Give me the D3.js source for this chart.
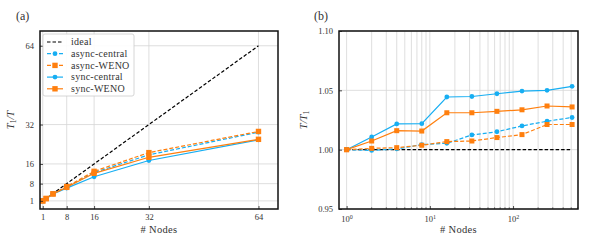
<!DOCTYPE html>
<html>
<head>
<meta charset="utf-8">
<script src="https://cdn.jsdelivr.net/npm/d3@7"></script>
<style>
  body { margin: 0; background: #fff; }
  svg { font-family: "Liberation Serif", "Times New Roman", serif; display: block; }
</style>
</head>
<body>
<svg id="chart"></svg>
<script>
const width = 589;
const height = 246;
const serif = "Liberation Serif, Times New Roman, serif";

// --- data: strong scaling (a) ---
const nodesA = [1, 2, 4, 8, 16, 32, 64];
const idealA = [1, 2, 4, 8, 16, 32, 64];
const asyncCentralA = [1, 1.95, 3.85, 6.6, 12.5, 19.7, 28.9];
const asyncWenoA = [1, 1.95, 3.85, 6.8, 13.0, 20.6, 29.2];
const syncCentralA = [1, 1.95, 3.85, 6.2, 10.8, 17.4, 25.8];
const syncWenoA = [1, 1.95, 3.85, 6.5, 12.2, 18.7, 26.0];
const ticksA = [1, 8, 16, 32, 64];

// --- data: weak scaling (b) ---
const nodesB = [1, 2, 4, 8, 16, 32, 64, 128, 256, 512];
const idealB = [1, 1, 1, 1, 1, 1, 1, 1, 1, 1];
const asyncCentralB = [1.000, 0.9994, 1.0006, 1.0043, 1.0054, 1.0124, 1.0151, 1.0200, 1.0240, 1.0271];
const asyncWenoB = [1.000, 1.0011, 1.0017, 1.0037, 1.0068, 1.0073, 1.0102, 1.0127, 1.0212, 1.0212];
const syncCentralB = [1.000, 1.0107, 1.0217, 1.0219, 1.0444, 1.0448, 1.0471, 1.0494, 1.0500, 1.0534];
const syncWenoB = [1.000, 1.0073, 1.0160, 1.0157, 1.0311, 1.0311, 1.0323, 1.0336, 1.0368, 1.0360];
const yTicksB = [0.95, 1.00, 1.05, 1.10];
const xTicksB = [1, 10, 100];

const blue = "#17aef2";
const orange = "#ff7f0e";

const seriesA = [
  { name: "ideal", values: idealA, color: "#000", dash: "3.5,2", marker: null },
  { name: "async-central", values: asyncCentralA, color: blue, dash: "4,2", marker: "circle" },
  { name: "async-WENO", values: asyncWenoA, color: orange, dash: "4,2", marker: "square" },
  { name: "sync-central", values: syncCentralA, color: blue, dash: null, marker: "circle" },
  { name: "sync-WENO", values: syncWenoA, color: orange, dash: null, marker: "square" }
];
const seriesB = [
  { name: "ideal", values: idealB, color: "#000", dash: "3.5,2", marker: null },
  { name: "async-central", values: asyncCentralB, color: blue, dash: "4,2", marker: "circle" },
  { name: "async-WENO", values: asyncWenoB, color: orange, dash: "4,2", marker: "square" },
  { name: "sync-central", values: syncCentralB, color: blue, dash: null, marker: "circle" },
  { name: "sync-WENO", values: syncWenoB, color: orange, dash: null, marker: "square" }
];

const svg = d3.select("#chart")
  .attr("width", width)
  .attr("height", height)
  .attr("viewBox", `0 0 ${width} ${height}`);

const gridColor = "#d6d6d6";
const textColor = "#333";

function drawMarkers(g, s, xs, x, y, size) {
  const pts = xs.map((n, i) => [x(n), y(s.values[i])]);
  if (s.marker === "circle") {
    g.selectAll(null).data(pts).enter().append("circle")
      .attr("cx", d => d[0]).attr("cy", d => d[1])
      .attr("r", size.r).attr("fill", s.color);
  } else if (s.marker === "square") {
    g.selectAll(null).data(pts).enter().append("rect")
      .attr("x", d => d[0] - size.sq / 2).attr("y", d => d[1] - size.sq / 2)
      .attr("width", size.sq).attr("height", size.sq).attr("fill", s.color);
  }
}

function drawSeries(g, series, xs, x, y, size) {
  series.forEach(s => {
    const line = d3.line().x((d, i) => x(xs[i])).y(d => y(d));
    g.append("path")
      .datum(s.values)
      .attr("fill", "none")
      .attr("stroke", s.color)
      .attr("stroke-width", 1.2)
      .attr("stroke-dasharray", s.dash)
      .attr("d", line);
    drawMarkers(g, s, xs, x, y, size);
  });
}

// ================= panel (a) =================
const A = { left: 40, right: 278, top: 31, bottom: 209 };
const xA = d3.scaleLinear().domain([0.2, 69.7]).range([A.left, A.right]);
const yA = d3.scaleLinear().domain([-2.3, 70]).range([A.bottom, A.top]);

const gA = svg.append("g");

// grid
gA.selectAll(null).data(ticksA).enter().append("line")
  .attr("x1", d => xA(d)).attr("x2", d => xA(d))
  .attr("y1", A.top).attr("y2", A.bottom)
  .attr("stroke", gridColor).attr("stroke-width", 0.8);
gA.selectAll(null).data(ticksA).enter().append("line")
  .attr("y1", d => yA(d)).attr("y2", d => yA(d))
  .attr("x1", A.left).attr("x2", A.right)
  .attr("stroke", gridColor).attr("stroke-width", 0.8);

drawSeries(gA, seriesA, nodesA, xA, yA, { r: 2.4, sq: 5.4 });

// axes (ticks inward)
gA.append("g")
  .attr("transform", `translate(0,${A.bottom})`)
  .call(d3.axisBottom(xA).tickValues(ticksA).tickSize(-3).tickPadding(5))
  .call(g => g.select(".domain").remove());
gA.append("g")
  .attr("transform", `translate(${A.left},0)`)
  .call(d3.axisLeft(yA).tickValues(ticksA).tickSize(-3).tickPadding(6))
  .call(g => g.select(".domain").remove());

// frame
gA.append("rect")
  .attr("x", A.left).attr("y", A.top)
  .attr("width", A.right - A.left).attr("height", A.bottom - A.top)
  .attr("fill", "none").attr("stroke", "#111").attr("stroke-width", 1.5);

// legend
const legend = gA.append("g").attr("transform", `translate(${A.left + 3},${A.top + 3})`);
legend.append("rect")
  .attr("x", 0).attr("y", 0).attr("width", 91).attr("height", 62)
  .attr("rx", 2).attr("fill", "white").attr("fill-opacity", 0.9)
  .attr("stroke", "#ccc").attr("stroke-width", 0.8);
seriesA.forEach((s, i) => {
  const ly = 8 + i * 11.7;
  legend.append("line")
    .attr("x1", 4).attr("x2", 20).attr("y1", ly).attr("y2", ly)
    .attr("stroke", s.color).attr("stroke-width", 1.2)
    .attr("stroke-dasharray", s.dash);
  if (s.marker === "circle") {
    legend.append("circle").attr("cx", 12).attr("cy", ly).attr("r", 2.4).attr("fill", s.color);
  } else if (s.marker === "square") {
    legend.append("rect").attr("x", 12 - 2.7).attr("y", ly - 2.7)
      .attr("width", 5.4).attr("height", 5.4).attr("fill", s.color);
  }
  legend.append("text")
    .attr("x", 28).attr("y", ly).attr("dy", "0.33em")
    .attr("font-size", 10).attr("letter-spacing", 0.25).attr("fill", textColor)
    .text(s.name);
});

// labels
svg.append("text").attr("x", 16).attr("y", 20).attr("font-size", 12).attr("fill", textColor).text("(a)");
svg.append("text")
  .attr("x", (A.left + A.right) / 2).attr("y", 233)
  .attr("text-anchor", "middle").attr("font-size", 10.5).attr("letter-spacing", 0.3)
  .attr("fill", textColor).text("# Nodes");
const ylabA = svg.append("text")
  .attr("transform", `translate(14,${(A.top + A.bottom) / 2}) rotate(-90)`)
  .attr("text-anchor", "middle").attr("font-size", 10.5).attr("font-style", "italic").attr("fill", textColor);
ylabA.append("tspan").text("T");
ylabA.append("tspan").attr("font-size", 7.5).attr("font-style", "normal").attr("dy", 2).text("1");
ylabA.append("tspan").attr("dy", -2).text("/T");

// ================= panel (b) =================
const B = { left: 339, right: 578, top: 31, bottom: 209 };
const xB = d3.scaleLog().domain([0.81, 603]).range([B.left, B.right]);
const yB = d3.scaleLinear().domain([0.95, 1.10]).range([B.bottom, B.top]);

const gB = svg.append("g");

const minorB = [];
[1, 10, 100].forEach(dec => {
  for (let k = 1; k <= 9; k++) {
    const v = dec * k;
    if (v >= xB.domain()[0] && v <= xB.domain()[1]) minorB.push(v);
  }
});

gB.selectAll(null).data(minorB).enter().append("line")
  .attr("x1", d => xB(d)).attr("x2", d => xB(d))
  .attr("y1", B.top).attr("y2", B.bottom)
  .attr("stroke", gridColor).attr("stroke-width", 0.8);
gB.selectAll(null).data(yTicksB).enter().append("line")
  .attr("y1", d => yB(d)).attr("y2", d => yB(d))
  .attr("x1", B.left).attr("x2", B.right)
  .attr("stroke", gridColor).attr("stroke-width", 0.8);

drawSeries(gB, seriesB, nodesB, xB, yB, { r: 2.4, sq: 5 });

// minor ticks
gB.selectAll(null).data(minorB.filter(d => !xTicksB.includes(d))).enter().append("line")
  .attr("x1", d => xB(d)).attr("x2", d => xB(d))
  .attr("y1", B.bottom).attr("y2", B.bottom - 1.8)
  .attr("stroke", "#333").attr("stroke-width", 0.6);

const xAxisB = gB.append("g")
  .attr("transform", `translate(0,${B.bottom})`)
  .call(d3.axisBottom(xB).tickValues(xTicksB).tickSize(-3).tickPadding(7).tickFormat(() => ""))
  .call(g => g.select(".domain").remove());
xAxisB.selectAll(".tick text").each(function(d) {
  const t = d3.select(this);
  t.text("");
  t.append("tspan").text("10");
  t.append("tspan").attr("font-size", 6).attr("dy", "-0.5em").text(Math.round(Math.log10(d)));
});

gB.append("g")
  .attr("transform", `translate(${B.left},0)`)
  .call(d3.axisLeft(yB).tickValues(yTicksB).tickSize(-3).tickPadding(6).tickFormat(d3.format(".2f")))
  .call(g => g.select(".domain").remove());

gB.append("rect")
  .attr("x", B.left).attr("y", B.top)
  .attr("width", B.right - B.left).attr("height", B.bottom - B.top)
  .attr("fill", "none").attr("stroke", "#111").attr("stroke-width", 1.5);

svg.append("text").attr("x", 314).attr("y", 20).attr("font-size", 12).attr("fill", textColor).text("(b)");
svg.append("text")
  .attr("x", (B.left + B.right) / 2).attr("y", 233)
  .attr("text-anchor", "middle").attr("font-size", 10.5).attr("letter-spacing", 0.3)
  .attr("fill", textColor).text("# Nodes");
const ylabB = svg.append("text")
  .attr("transform", `translate(307,${(B.top + B.bottom) / 2}) rotate(-90)`)
  .attr("text-anchor", "middle").attr("font-size", 10.5).attr("font-style", "italic").attr("fill", textColor);
ylabB.append("tspan").text("T/T");
ylabB.append("tspan").attr("font-size", 7.5).attr("font-style", "normal").attr("dy", 2).text("1");

// tick label style
svg.selectAll(".tick text").attr("font-size", 8.5).attr("fill", textColor).attr("font-family", serif);
svg.selectAll(".tick line").attr("stroke", "#222").attr("stroke-width", 0.8);
</script>
</body>
</html>
